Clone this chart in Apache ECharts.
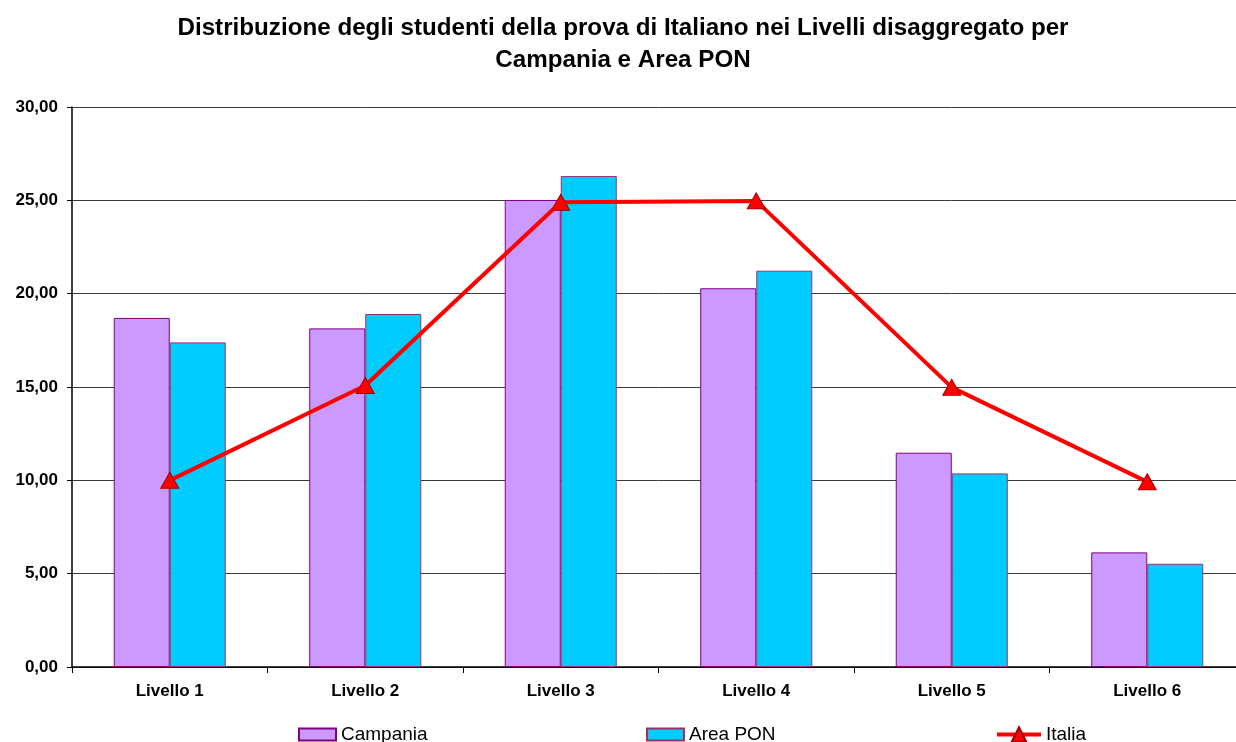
<!DOCTYPE html>
<html>
<head>
<meta charset="utf-8">
<script src="https://cdn.jsdelivr.net/npm/echarts@6/dist/echarts.min.js"></script>
<style>
  html, body { margin: 0; padding: 0; background: #fff; overflow: hidden; }
  #wrap { width: 1236px; height: 742px; overflow: hidden; }
  /* plot area runs a little past the right edge of the view */
  #chart { width: 1245px; height: 742px; }
</style>
</head>
<body>
<div id="wrap"><div id="chart"></div></div>
<script>
// Distribution of students across the levels (percent)
const categories = ['Livello 1', 'Livello 2', 'Livello 3', 'Livello 4', 'Livello 5', 'Livello 6'];
const campania = [18.70, 18.14, 25.02, 20.29, 11.48, 6.14];
const areaPon = [17.39, 18.91, 26.30, 21.23, 10.37, 5.53];
const italia = [10.00, 15.08, 24.90, 24.97, 14.98, 9.92];
const yTicks = { min: 0, max: 30, interval: 5 };

const fontFamily = '"Liberation Sans", Arial, sans-serif';
const fmt = v => v.toFixed(2).replace('.', ',');

const chart = echarts.init(document.getElementById('chart'), null, { renderer: 'canvas' });

const legendText = { fontFamily, fontSize: 19, color: '#000' };

chart.setOption({
  animation: false,
  backgroundColor: '#ffffff',
  title: {
    text: 'Distribuzione degli studenti della prova di Italiano nei Livelli disaggregato per\nCampania e Area PON',
    left: 618,
    top: 7,
    textAlign: 'center',
    textStyle: {
      fontFamily,
      fontSize: 24.2,
      fontWeight: 'bold',
      color: '#000',
      lineHeight: 32,
      align: 'center'
    }
  },
  legend: [
    {
      data: [{ name: 'Campania', icon: 'rect' }],
      left: 293, top: 720,
      itemWidth: 37, itemHeight: 12,
      textStyle: legendText
    },
    {
      data: [{ name: 'Area PON', icon: 'rect' }],
      left: 641, top: 720,
      itemWidth: 37, itemHeight: 12,
      textStyle: legendText
    },
    {
      data: ['Italia'],
      left: 990, top: 720,
      itemWidth: 44, itemHeight: 18,
      lineStyle: { width: 4 },
      textStyle: legendText
    }
  ],
  grid: {
    left: 72,
    right: 0,
    top: 107,
    bottom: 75,
    containLabel: false
  },
  xAxis: {
    type: 'category',
    data: categories,
    boundaryGap: true,
    axisLine: { lineStyle: { color: '#000', width: 1.5 } },
    axisTick: { show: true, length: 6, lineStyle: { color: '#000' } },
    axisLabel: {
      fontFamily, fontSize: 17, fontWeight: 'bold', color: '#000', margin: 16
    }
  },
  yAxis: {
    type: 'value',
    min: yTicks.min,
    max: yTicks.max,
    interval: yTicks.interval,
    axisLine: { show: true, lineStyle: { color: '#000', width: 1.5 } },
    axisTick: { show: true, length: 5, lineStyle: { color: '#000' } },
    splitLine: { show: true, lineStyle: { color: '#3a3a3a', width: 1 } },
    axisLabel: {
      fontFamily, fontSize: 17, fontWeight: 'bold', color: '#000', margin: 14,
      formatter: fmt
    }
  },
  series: [
    {
      name: 'Campania',
      type: 'bar',
      data: campania,
      barGap: '0%',
      barCategoryGap: '42.7%',
      itemStyle: { color: '#CC99FF', borderColor: '#800080', borderWidth: 1 }
    },
    {
      name: 'Area PON',
      type: 'bar',
      data: areaPon,
      itemStyle: { color: '#00CCFF', borderColor: '#993366', borderWidth: 1 }
    },
    {
      name: 'Italia',
      type: 'line',
      data: italia,
      z: 5,
      symbol: 'triangle',
      symbolSize: [18, 16],
      lineStyle: { color: '#FF0000', width: 4 },
      itemStyle: { color: '#FF0000', borderColor: '#A00000', borderWidth: 1 }
    }
  ]
});
</script>
</body>
</html>
